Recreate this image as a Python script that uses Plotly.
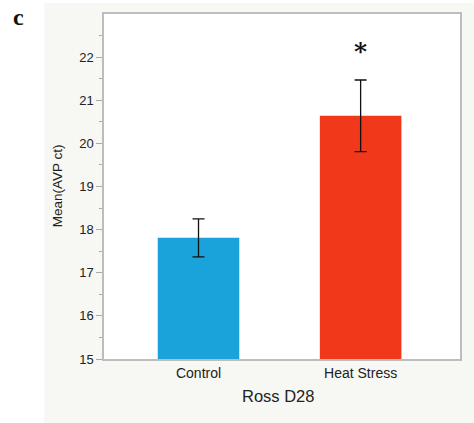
import plotly.graph_objects as go

categories = ["Control", "Heat Stress"]
means = [17.81, 20.64]
errors = [0.44, 0.83]
colors = ["#1aa3da", "#f2381b"]
y_ticks = [15, 16, 17, 18, 19, 20, 21, 22]
y_minor = [15.5, 16.5, 17.5, 18.5, 19.5, 20.5, 21.5, 22.5]
y_title = "Mean(AVP ct)"
x_title = "Ross D28"
panel_label = "c"

W, H = 474, 423
L, R, T, B = 104, 12, 14, 64
PW, PH = W - L - R, H - T - B


def px(x):
    return (x - L) / PW


def py(y):
    return (H - B - y) / PH


fig = go.Figure()
fig.add_trace(go.Bar(
    x=[0, 1], y=[m - 15 for m in means], base=15,
    width=0.503,
    marker=dict(color=colors, line=dict(width=0)),
    error_y=dict(type="data", array=errors, color="#111111", thickness=1.3, width=6),
    showlegend=False,
))

panel = "#f7f7f3"
fig.update_layout(
    width=W, height=H,
    margin=dict(l=L, r=R, t=T, b=B),
    paper_bgcolor=panel,
    plot_bgcolor="white",
    font=dict(family="Liberation Sans, Arial, sans-serif", color="#222222", size=13),
    xaxis=dict(
        range=[-0.583, 1.613], tickvals=[0, 1], ticktext=categories,
        showgrid=False, zeroline=False, ticks="", ticklen=0,
        showline=True, linecolor="#bdbdbd", linewidth=1.5, mirror=True,
        tickfont=dict(size=14),
    ),
    yaxis=dict(
        range=[15, 23], tickvals=y_ticks,
        showgrid=False, zeroline=False,
        ticks="outside", ticklen=6, tickcolor="#aaaaaa", tickwidth=1,
        minor=dict(tickvals=y_minor, ticks="outside", ticklen=3, tickcolor="#aaaaaa"),
        showline=True, linecolor="#bdbdbd", linewidth=1.5, mirror=True,
        tickfont=dict(size=13),
    ),
    shapes=[
        dict(type="rect", xref="paper", yref="paper", x0=px(-20), x1=px(44), y0=py(440), y1=py(-20),
             fillcolor="white", line=dict(width=0), layer="below"),
        dict(type="rect", xref="paper", yref="paper", x0=px(-20), x1=px(490), y0=py(3), y1=py(-20),
             fillcolor="white", line=dict(width=0), layer="below"),
    ],
)
fig.add_annotation(x=1, y=22.12, xref="x", yref="y", text="<b>*</b>", showarrow=False,
                   font=dict(family="DejaVu Serif, serif", size=25, color="#111111"), yanchor="middle")
fig.add_annotation(x=px(18.5), y=py(17), xref="paper", yref="paper",
                   text="<b>" + panel_label + "</b>", showarrow=False, xanchor="center", yanchor="middle",
                   font=dict(family="Liberation Serif, serif", size=24, color="#111111"))
fig.add_annotation(x=px(57), y=py(186), xref="paper", yref="paper", text=y_title, textangle=-90,
                   showarrow=False, xanchor="center", yanchor="middle", font=dict(size=13.5))
fig.add_annotation(x=px(279), y=py(396), xref="paper", yref="paper", text=x_title,
                   showarrow=False, xanchor="center", yanchor="middle", font=dict(size=16.5))

fig.write_html("out.html", config={"displayModeBar": False},
               post_script="document.body.style.margin='0';document.body.style.padding='0';")
